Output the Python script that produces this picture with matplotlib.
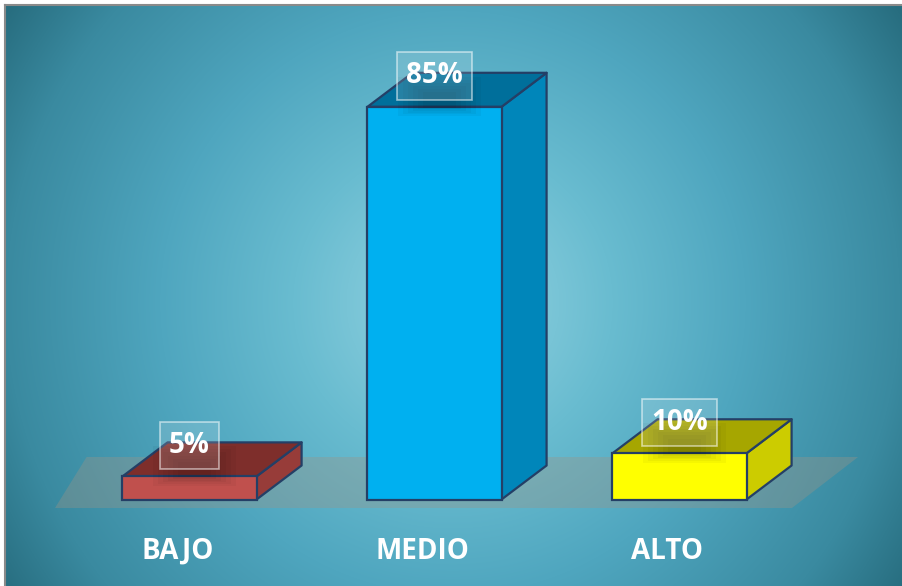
import numpy as np
import matplotlib as mpl
import matplotlib.pyplot as plt
from matplotlib.patches import Polygon, Rectangle

categories = ["BAJO", "MEDIO", "ALTO"]
values = [5, 85, 10]
labels = ["5%", "85%", "10%"]
front_colors = ["#c0504d", "#00b0f0", "#ffff00"]
top_colors = ["#7e2e2b", "#006f9b", "#a6a600"]
side_colors = ["#973c39", "#0086ba", "#cccc00"]

W, H = 902, 586
fig = plt.figure(figsize=(W / 100, H / 100), dpi=100)
fig.patch.set_facecolor("white")

# background with a radial gradient
bg = fig.add_axes([5 / W, 0, 1 - 5 / W, 1 - 5 / H])
bg.set_axis_off()
yy, xx = np.mgrid[0:H, 0:W]
d = np.hypot(xx - 450, yy - 300) / 535.0
stops = np.array([0.0, 0.3, 0.55, 0.84, 1.0, 1.2])
cols = np.array([[150, 212, 226], [105, 188, 208], [79, 166, 191],
                 [58, 138, 160], [40, 110, 128], [35, 100, 118]]) / 255.0
img = np.dstack([np.interp(d, stops, cols[:, k]) for k in range(3)])
bg.imshow(img, aspect="auto", interpolation="bilinear")
fig.add_artist(plt.Line2D([5 / W, 1], [1 - 4.5 / H, 1 - 4.5 / H], color="#8a8a8a", lw=1.5))
fig.add_artist(plt.Line2D([4.5 / W, 4.5 / W], [0, 1 - 4.5 / H], color="#8a8a8a", lw=1.5))

# data axes over the whole figure: x in category units, y in percent
ax = fig.add_axes([0, 0, 1, 1])
ax.patch.set_alpha(0)
ax.set_axis_off()
px_x = 245.0   # pixels per category
px_y = 4.62    # pixels per percent
x0, y0 = 189.5, 499.5
ax.set_xlim(-x0 / px_x, (W - x0) / px_x)
ax.set_ylim(-(H - y0) / px_y, y0 / px_y)

bw = 0.547
dx, dy = 0.184, 7.36

# floor
floor = Polygon([(-0.549, -1.84), (2.459, -1.84), (2.729, 9.2), (-0.42, 9.2)],
                closed=True, facecolor=(0.62, 0.58, 0.52), alpha=0.35,
                edgecolor="none", zorder=1)
ax.add_patch(floor)

edge = "#243f66"
for i, v in enumerate(values):
    xl, xr = i - bw / 2, i + bw / 2
    front = Rectangle((xl, 0), bw, v, facecolor=front_colors[i],
                      edgecolor=edge, lw=1.6, zorder=3)
    top = Polygon([(xl, v), (xl + dx, v + dy), (xr + dx, v + dy), (xr, v)],
                  closed=True, facecolor=top_colors[i], edgecolor=edge,
                  lw=1.6, zorder=2, joinstyle="round")
    side = Polygon([(xr, 0), (xr + dx, dy), (xr + dx, v + dy), (xr, v)],
                   closed=True, facecolor=side_colors[i], edgecolor=edge,
                   lw=1.6, zorder=2, joinstyle="round")
    ax.add_patch(side)
    ax.add_patch(top)
    ax.add_patch(front)

    # soft shadow under the value label
    for k in range(6):
        s = 1 - k * 0.12
        ax.add_patch(Rectangle((i - 0.17 * s + 0.02, v + 1.0 - 3 * s),
                               0.34 * s, 8.5 * s, facecolor="black",
                               alpha=0.035, edgecolor="none", zorder=4))

    ax.text(i, v + 6.7, labels[i], ha="center", va="center", fontsize=20,
            fontweight="bold", family="Open Sans", color="white", zorder=6,
            bbox=dict(boxstyle="square,pad=0.33", facecolor=(1, 1, 1, 0.15),
                      edgecolor=(1, 1, 1, 0.55), lw=1.2))

    ax.text(i - 0.05, -11.15, categories[i], ha="center", va="center",
            fontsize=20, fontweight="bold", family="Open Sans",
            color="white", zorder=6)

fig.savefig("out.png", dpi=100)
